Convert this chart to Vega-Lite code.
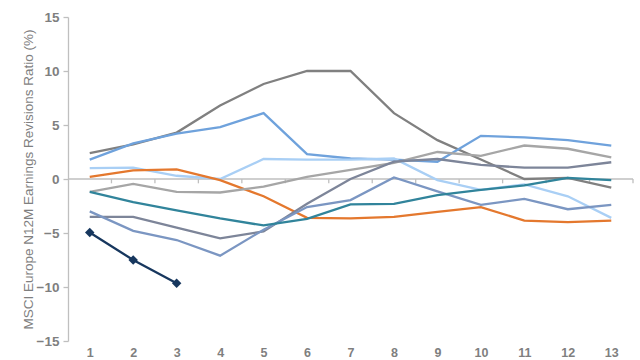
{
  "$schema": "https://vega.github.io/schema/vega-lite/v6.json",
  "width": 565,
  "height": 324,
  "autosize": "none",
  "padding": {"left": 68, "top": 17, "right": 7, "bottom": 19},
  "background": "white",
  "config": {"view": {"stroke": null}, "font": "Liberation Sans"},
  "datasets": {
    "series": [
      {"s": "S1", "x": 1, "v": 2.4}, {"s": "S1", "x": 2, "v": 3.2}, {"s": "S1", "x": 3, "v": 4.3}, {"s": "S1", "x": 4, "v": 6.8}, {"s": "S1", "x": 5, "v": 8.8}, {"s": "S1", "x": 6, "v": 10.0}, {"s": "S1", "x": 7, "v": 10.0}, {"s": "S1", "x": 8, "v": 6.1}, {"s": "S1", "x": 9, "v": 3.6}, {"s": "S1", "x": 10, "v": 1.8}, {"s": "S1", "x": 11, "v": 0.0}, {"s": "S1", "x": 12, "v": 0.1}, {"s": "S1", "x": 13, "v": -0.8},
      {"s": "S2", "x": 1, "v": 1.8}, {"s": "S2", "x": 2, "v": 3.3}, {"s": "S2", "x": 3, "v": 4.2}, {"s": "S2", "x": 4, "v": 4.8}, {"s": "S2", "x": 5, "v": 6.1}, {"s": "S2", "x": 6, "v": 2.3}, {"s": "S2", "x": 7, "v": 1.9}, {"s": "S2", "x": 8, "v": 1.8}, {"s": "S2", "x": 9, "v": 1.6}, {"s": "S2", "x": 10, "v": 4.0}, {"s": "S2", "x": 11, "v": 3.85}, {"s": "S2", "x": 12, "v": 3.6}, {"s": "S2", "x": 13, "v": 3.1},
      {"s": "S3", "x": 1, "v": 1.0}, {"s": "S3", "x": 2, "v": 1.05}, {"s": "S3", "x": 3, "v": 0.3}, {"s": "S3", "x": 4, "v": 0.0}, {"s": "S3", "x": 5, "v": 1.85}, {"s": "S3", "x": 6, "v": 1.8}, {"s": "S3", "x": 7, "v": 1.8}, {"s": "S3", "x": 8, "v": 1.9}, {"s": "S3", "x": 9, "v": -0.1}, {"s": "S3", "x": 10, "v": -1.0}, {"s": "S3", "x": 11, "v": -0.5}, {"s": "S3", "x": 12, "v": -1.6}, {"s": "S3", "x": 13, "v": -3.6},
      {"s": "S4", "x": 1, "v": 0.2}, {"s": "S4", "x": 2, "v": 0.8}, {"s": "S4", "x": 3, "v": 0.9}, {"s": "S4", "x": 4, "v": -0.1}, {"s": "S4", "x": 5, "v": -1.6}, {"s": "S4", "x": 6, "v": -3.6}, {"s": "S4", "x": 7, "v": -3.65}, {"s": "S4", "x": 8, "v": -3.5}, {"s": "S4", "x": 9, "v": -3.05}, {"s": "S4", "x": 10, "v": -2.6}, {"s": "S4", "x": 11, "v": -3.85}, {"s": "S4", "x": 12, "v": -4.0}, {"s": "S4", "x": 13, "v": -3.85},
      {"s": "S5", "x": 1, "v": -1.2}, {"s": "S5", "x": 2, "v": -0.45}, {"s": "S5", "x": 3, "v": -1.2}, {"s": "S5", "x": 4, "v": -1.25}, {"s": "S5", "x": 5, "v": -0.7}, {"s": "S5", "x": 6, "v": 0.2}, {"s": "S5", "x": 7, "v": 0.85}, {"s": "S5", "x": 8, "v": 1.5}, {"s": "S5", "x": 9, "v": 2.5}, {"s": "S5", "x": 10, "v": 2.15}, {"s": "S5", "x": 11, "v": 3.1}, {"s": "S5", "x": 12, "v": 2.8}, {"s": "S5", "x": 13, "v": 2.0},
      {"s": "S6", "x": 1, "v": -3.5}, {"s": "S6", "x": 2, "v": -3.5}, {"s": "S6", "x": 3, "v": -4.5}, {"s": "S6", "x": 4, "v": -5.5}, {"s": "S6", "x": 5, "v": -4.85}, {"s": "S6", "x": 6, "v": -2.3}, {"s": "S6", "x": 7, "v": 0.0}, {"s": "S6", "x": 8, "v": 1.6}, {"s": "S6", "x": 9, "v": 1.85}, {"s": "S6", "x": 10, "v": 1.3}, {"s": "S6", "x": 11, "v": 1.05}, {"s": "S6", "x": 12, "v": 1.05}, {"s": "S6", "x": 13, "v": 1.55},
      {"s": "S7", "x": 1, "v": -3.0}, {"s": "S7", "x": 2, "v": -4.8}, {"s": "S7", "x": 3, "v": -5.65}, {"s": "S7", "x": 4, "v": -7.1}, {"s": "S7", "x": 5, "v": -4.7}, {"s": "S7", "x": 6, "v": -2.6}, {"s": "S7", "x": 7, "v": -1.95}, {"s": "S7", "x": 8, "v": 0.15}, {"s": "S7", "x": 9, "v": -1.15}, {"s": "S7", "x": 10, "v": -2.4}, {"s": "S7", "x": 11, "v": -1.85}, {"s": "S7", "x": 12, "v": -2.8}, {"s": "S7", "x": 13, "v": -2.4},
      {"s": "S8", "x": 1, "v": -1.2}, {"s": "S8", "x": 2, "v": -2.15}, {"s": "S8", "x": 3, "v": -2.9}, {"s": "S8", "x": 4, "v": -3.65}, {"s": "S8", "x": 5, "v": -4.3}, {"s": "S8", "x": 6, "v": -3.7}, {"s": "S8", "x": 7, "v": -2.35}, {"s": "S8", "x": 8, "v": -2.3}, {"s": "S8", "x": 9, "v": -1.5}, {"s": "S8", "x": 10, "v": -1.0}, {"s": "S8", "x": 11, "v": -0.6}, {"s": "S8", "x": 12, "v": 0.1}, {"s": "S8", "x": 13, "v": -0.1},
      {"s": "S9", "x": 1, "v": -4.95}, {"s": "S9", "x": 2, "v": -7.5}, {"s": "S9", "x": 3, "v": -9.65}
    ],
    "bounds": [
      {"b": 1.5}, {"b": 2.5}, {"b": 3.5}, {"b": 4.5}, {"b": 5.5}, {"b": 6.5}, {"b": 7.5}, {"b": 8.5}, {"b": 9.5}, {"b": 10.5}, {"b": 11.5}, {"b": 12.5}, {"b": 13.5}
    ]
  },
  "layer": [
    {
      "data": {"values": [{"z": 0}]},
      "mark": {"type": "rule", "color": "#bfbfbf", "strokeWidth": 1.3},
      "encoding": {"y": {"field": "z", "type": "quantitative"}}
    },
    {
      "data": {"name": "bounds"},
      "transform": [{"calculate": "0", "as": "y0"}, {"calculate": "-0.4", "as": "y1"}],
      "mark": {"type": "rule", "color": "#bfbfbf", "strokeWidth": 1.3},
      "encoding": {
        "x": {"field": "b", "type": "quantitative"},
        "y": {"field": "y0", "type": "quantitative"},
        "y2": {"field": "y1"}
      }
    },
    {
      "data": {"name": "series"},
      "mark": {"type": "line", "strokeWidth": 2.3, "interpolate": "linear"},
      "encoding": {
        "x": {
          "field": "x", "type": "quantitative",
          "scale": {"domain": [0.5, 13.5], "nice": false, "zero": false},
          "axis": {
            "values": [1, 2, 3, 4, 5, 6, 7, 8, 9, 10, 11, 12, 13],
            "domain": false, "ticks": false, "grid": false, "title": null,
            "labelColor": "#7f7f7f", "labelFontSize": 12.5, "labelFontWeight": "bold", "labelPadding": 5
          }
        },
        "y": {
          "field": "v", "type": "quantitative",
          "scale": {"domain": [-15, 15], "nice": false},
          "axis": {
            "values": [-15, -10, -5, 0, 5, 10, 15],
            "grid": false,
            "title": "MSCI Europe N12M Earnings Revisions Ratio (%)",
            "titleColor": "#7f7f7f", "titleFontSize": 13.5, "titleFontWeight": "normal", "titlePadding": 1,
            "domainColor": "#bfbfbf", "domainWidth": 1.3, "tickColor": "#bfbfbf", "tickSize": 5, "tickWidth": 1.3,
            "labelColor": "#7f7f7f", "labelFontSize": 13.5, "labelFontWeight": "bold", "labelPadding": 4
          }
        },
        "color": {
          "field": "s", "type": "nominal", "legend": null,
          "scale": {
            "domain": ["S1", "S2", "S3", "S4", "S5", "S6", "S7", "S8", "S9"],
            "range": ["#808080", "#6fa2dc", "#a9cff5", "#e4782e", "#a6a6a6", "#7d8599", "#7b96c2", "#31849b", "#17375e"]
          }
        },
        "order": {"field": "x", "type": "quantitative"}
      }
    },
    {
      "data": {"name": "series"},
      "transform": [{"filter": "datum.s === 'S9'"}],
      "mark": {"type": "point", "shape": "diamond", "filled": true, "size": 90, "color": "#17375e", "opacity": 1},
      "encoding": {
        "x": {"field": "x", "type": "quantitative"},
        "y": {"field": "v", "type": "quantitative"}
      }
    }
  ]
}
